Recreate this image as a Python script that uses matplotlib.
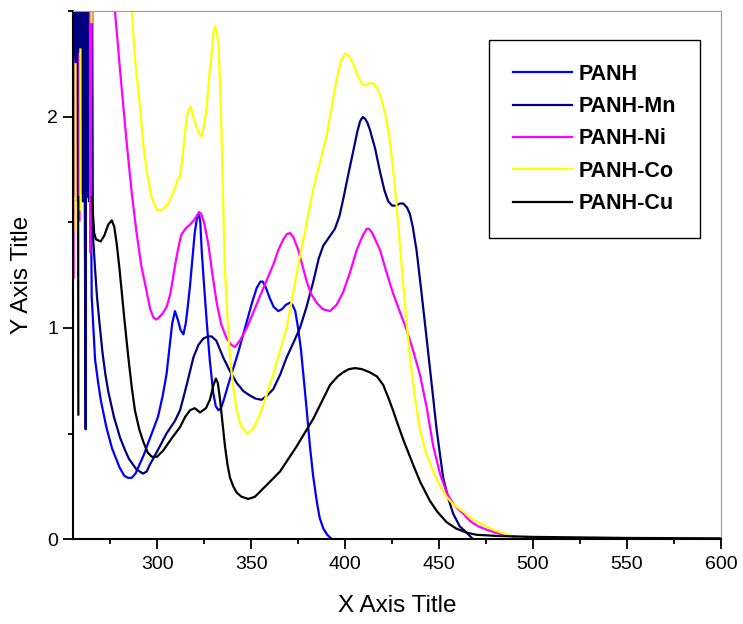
import numpy as np
import matplotlib
matplotlib.use("Agg")
import matplotlib.pyplot as plt
from matplotlib.ticker import MultipleLocator

plt.rcParams['font.family'] = ['Liberation Sans', 'DejaVu Sans']

nan = np.nan

# wavelength (nm) / absorbance (nan = gap in the noisy UV edge)
x_panh = [255.0, 255.2, nan, 264.8, 265.2, 267.0, 268.5, 270.0, 273.0, 276.0, 280.0, 282.5, 284.5, 286.5,
          288.5, 291.0, 293.0, 295.0, 298.0, 300.5, 303.0, 305.0, 306.5, 308.0, 309.5, 311.0, 312.5, 314.0,
          315.2, 316.3, 317.5, 318.8, 320.0, 321.2, 322.3, 323.0, 323.7, 325.0, 326.4, 328.0, 329.9, 331.2,
          332.6, 334.0, 335.5, 338.8, 343.0, 347.7, 350.5, 353.0, 355.0, 356.2, 357.5, 360.0, 362.0, 364.5,
          366.5, 368.5, 370.7, 372.0, 373.5, 375.0, 376.5, 377.8, 379.5, 381.3, 383.0, 384.9, 386.5, 388.4,
          390.5, 392.9]
y_panh = [1.60, 1.02, nan, 1.62, 1.15, 0.85, 0.75, 0.66, 0.53, 0.43, 0.34, 0.30, 0.29, 0.29,
          0.31, 0.36, 0.40, 0.45, 0.52, 0.58, 0.68, 0.78, 0.90, 1.02, 1.08, 1.04, 0.99, 0.97,
          1.02, 1.10, 1.20, 1.33, 1.45, 1.52, 1.54, 1.50, 1.37, 1.20, 1.03, 0.85, 0.69, 0.63,
          0.61, 0.62, 0.66, 0.76, 0.88, 1.03, 1.12, 1.19, 1.22, 1.22, 1.20, 1.14, 1.10, 1.08,
          1.09, 1.11, 1.12, 1.11, 1.08, 1.00, 0.90, 0.78, 0.62, 0.44, 0.30, 0.18, 0.10, 0.05,
          0.02, 0.0]

x_mn = [255.0, 255.5, 256.0, 256.5, 257.0, 257.5, 258.0, 258.5, 259.0, 259.5, 260.0, 260.5, 261.0, 261.5,
        262.0, 262.3, 262.8, 263.3, 263.8, 264.3, 264.8, 265.3, 265.8, 266.0, 267.0, 268.0, 269.5, 271.0,
        272.5, 274.0, 277.0, 280.3, 283.0, 285.0, 289.0, 292.5, 294.5, 296.0, 298.5, 301.5, 305.0, 309.5,
        312.2, 314.0, 316.0, 319.3, 322.0, 324.6, 327.0, 329.0, 331.5, 335.2, 338.5, 342.3, 346.0, 349.4,
        352.5, 355.6, 358.5, 361.8, 365.5, 368.9, 372.5, 376.0, 379.5, 383.1, 386.0, 388.4, 391.5, 394.6,
        397.0, 399.0, 402.0, 404.4, 406.5, 408.0, 409.4, 410.8, 412.0, 413.2, 416.0, 418.6, 421.0, 423.0,
        425.0, 427.0, 429.2, 431.0, 433.0, 434.5, 436.0, 438.0, 440.5, 443.4, 446.0, 448.7, 450.5, 452.2,
        455.0, 457.5, 461.0, 464.7, 468.0]
y_mn = [3.0, 1.62, 3.0, 1.65, 3.0, 1.60, 3.0, 1.62, 3.0, 1.64, 3.0, 1.60, 3.0, 1.62,
        0.52, 3.0, 1.62, 3.0, 1.60, 3.0, 1.62, 3.0, 1.55, 1.42, 1.28, 1.15, 1.01, 0.88,
        0.78, 0.70, 0.58, 0.48, 0.42, 0.38, 0.33, 0.31, 0.32, 0.35, 0.39, 0.44, 0.50, 0.56,
        0.61, 0.67, 0.74, 0.86, 0.92, 0.95, 0.96, 0.96, 0.94, 0.86, 0.80, 0.74, 0.70, 0.68,
        0.665, 0.66, 0.68, 0.71, 0.78, 0.86, 0.93, 1.00, 1.10, 1.22, 1.33, 1.39, 1.43, 1.47,
        1.53, 1.61, 1.74, 1.84, 1.93, 1.98, 2.00, 1.99, 1.97, 1.94, 1.85, 1.74, 1.65, 1.60,
        1.58, 1.58, 1.59, 1.59, 1.57, 1.54, 1.48, 1.37, 1.18, 0.95, 0.74, 0.52, 0.40, 0.29,
        0.19, 0.12, 0.06, 0.03, 0.0]

x_ni = [255.5, 255.6, nan, 258.7, 258.75, nan, 264.3, 264.4, 265.5, 270.0, 277.6, 280.5, 283.8, 286.5,
        289.1, 291.5, 294.5, 296.3, 298.0, 299.5, 301.0, 303.0, 305.1, 307.0, 308.5, 310.0, 311.3, 312.8,
        315.0, 317.5, 319.5, 321.0, 322.3, 323.5, 325.0, 327.2, 329.5, 331.7, 334.0, 337.0, 339.5, 341.4,
        344.0, 347.7, 351.0, 354.7, 358.0, 361.8, 364.5, 367.1, 369.0, 370.7, 372.5, 375.1, 377.5, 379.6,
        382.0, 384.9, 388.0, 392.0, 395.5, 399.0, 402.5, 406.2, 409.5, 411.5, 412.7, 414.5, 416.5, 418.6,
        421.5, 425.3, 429.0, 432.4, 436.0, 439.8, 443.5, 446.9, 450.5, 454.0, 458.0, 462.9, 466.5, 470.9,
        475.0, 480.0, 485.0, 490.0, 500.0]
y_ni = [2.27, 1.24, nan, 2.30, 1.51, nan, 2.60, 1.36, 3.0, 3.3, 2.50, 2.20, 1.88, 1.64,
        1.45, 1.30, 1.17, 1.09, 1.05, 1.04, 1.05, 1.07, 1.10, 1.16, 1.24, 1.32, 1.38, 1.44,
        1.47, 1.49, 1.51, 1.53, 1.55, 1.54, 1.50, 1.40, 1.25, 1.12, 1.02, 0.95, 0.92, 0.91,
        0.94, 1.00, 1.07, 1.15, 1.22, 1.30, 1.37, 1.42, 1.445, 1.45, 1.43, 1.37, 1.29, 1.22,
        1.16, 1.12, 1.09, 1.08, 1.11, 1.17, 1.26, 1.37, 1.44, 1.47, 1.47, 1.45, 1.41, 1.37,
        1.28, 1.17, 1.08, 1.00, 0.90, 0.78, 0.62, 0.44, 0.31, 0.22, 0.16, 0.12, 0.085, 0.06,
        0.045, 0.03, 0.02, 0.01, 0.0]

x_co = [256.6, 256.7, nan, 259.2, 259.3, nan, 265.1, 265.3, 280.0, 286.5, 288.5, 290.9, 292.5, 294.5,
        297.0, 299.8, 302.5, 306.0, 308.5, 311.3, 312.2, 314.0, 315.7, 317.0, 317.9, 319.3, 321.0, 322.5,
        323.7, 325.0, 326.4, 327.8, 329.0, 330.0, 330.8, 331.7, 332.6, 333.5, 334.4, 335.2, 336.1, 337.4,
        338.8, 340.5, 342.3, 344.5, 347.7, 351.0, 354.7, 361.8, 368.9, 376.0, 383.1, 390.2, 395.5, 398.0,
        400.0, 402.0, 404.4, 406.5, 408.8, 411.0, 413.0, 415.0, 417.5, 419.5, 421.7, 423.9, 425.7, 427.5,
        429.3, 431.0, 432.7, 434.5, 437.0, 439.8, 443.0, 446.9, 450.0, 454.0, 458.0, 462.9, 466.5, 470.9,
        475.0, 480.0, 485.0, 490.0, 497.0]
y_co = [2.25, 1.46, nan, 2.32, 1.56, nan, 2.45, 3.0, 3.6, 2.50, 2.25, 2.05, 1.88, 1.74,
        1.62, 1.56, 1.56, 1.59, 1.64, 1.71, 1.72, 1.85, 2.00, 2.04, 2.05, 2.00, 1.95, 1.92,
        1.91, 1.96, 2.05, 2.20, 2.30, 2.40, 2.43, 2.40, 2.35, 2.15, 1.88, 1.58, 1.28, 1.05,
        0.86, 0.72, 0.61, 0.54, 0.50, 0.52, 0.59, 0.78, 1.00, 1.34, 1.66, 1.91, 2.18, 2.27,
        2.30, 2.29, 2.25, 2.20, 2.16, 2.15, 2.16, 2.16, 2.13, 2.08, 2.00, 1.88, 1.74, 1.57,
        1.38, 1.20, 1.03, 0.86, 0.68, 0.52, 0.41, 0.32, 0.26, 0.20, 0.16, 0.13, 0.10, 0.08,
        0.06, 0.04, 0.025, 0.012, 0.0]

x_cu = [258.0, 258.1, nan, 265.3, 266.5, 267.5, 270.0, 272.0, 274.0, 275.9, 277.2, 278.5, 280.0, 282.5,
        284.7, 286.5, 288.2, 290.5, 292.7, 295.0, 297.1, 300.0, 303.3, 308.0, 312.2, 315.0, 317.5, 320.0,
        322.8, 326.0, 328.1, 330.0, 331.3, 332.3, 333.5, 334.8, 336.1, 337.5, 338.8, 340.5, 342.3, 345.0,
        348.5, 352.0, 356.5, 361.0, 365.4, 374.3, 383.1, 392.0, 396.0, 399.0, 402.0, 405.3, 409.0, 413.2,
        417.0, 420.3, 423.0, 425.5, 427.4, 431.0, 436.3, 440.0, 445.2, 449.0, 454.0, 459.0, 464.7, 470.0,
        480.0, 500.0, 520.0, 550.0, 600.0]
y_cu = [1.62, 0.59, nan, 1.62, 1.45, 1.42, 1.41, 1.44, 1.49, 1.51, 1.48, 1.40, 1.28, 1.05,
        0.86, 0.72, 0.61, 0.52, 0.46, 0.41, 0.39, 0.39, 0.42, 0.48, 0.53, 0.58, 0.61, 0.62,
        0.60, 0.62, 0.66, 0.73, 0.76, 0.74, 0.66, 0.55, 0.44, 0.35, 0.29, 0.25, 0.22, 0.20,
        0.19, 0.20, 0.24, 0.28, 0.32, 0.44, 0.57, 0.73, 0.77, 0.79, 0.805, 0.81, 0.805, 0.79,
        0.77, 0.73, 0.67, 0.61, 0.56, 0.47, 0.35, 0.27, 0.18, 0.13, 0.08, 0.05, 0.03, 0.02,
        0.015, 0.01, 0.008, 0.005, 0.003]

labels = ['PANH', 'PANH-Mn', 'PANH-Ni', 'PANH-Co', 'PANH-Cu']
colors = ['#0000FF', '#000080', '#FF00FF', '#FFFF00', '#000000']

fig = plt.figure(figsize=(7.43, 6.24), dpi=100)
ax = fig.add_axes([0.0976, 0.1362, 0.8728, 0.8454])

series = [(x_panh, y_panh), (x_mn, y_mn), (x_ni, y_ni), (x_co, y_co), (x_cu, y_cu)]
for (xs, ys), lab, c in zip(series, labels, colors):
    ax.plot(xs, ys, color=c, lw=1.6, label=lab)

ax.set_xlim(255, 600)
ax.set_ylim(0, 2.5)
ax.xaxis.set_major_locator(MultipleLocator(50))
ax.xaxis.set_minor_locator(MultipleLocator(25))
ax.yaxis.set_major_locator(MultipleLocator(1))
ax.yaxis.set_minor_locator(MultipleLocator(0.5))
ax.tick_params(which='major', direction='out', length=7, width=1.3, labelsize=14)
ax.tick_params(which='minor', direction='out', length=3.6, width=1.3)
ax.tick_params(axis='x', which='major', pad=5)
ax.tick_params(axis='y', which='major', pad=3.5)

for s in ['left', 'bottom']:
    ax.spines[s].set_linewidth(1.5)
for s in ['top', 'right']:
    ax.spines[s].set_linewidth(0.8)
    ax.spines[s].set_color('#9a9a9a')

ax.set_xlabel('X Axis Title', fontsize=17.5, labelpad=16)
ax.set_ylabel('Y Axis Title', fontsize=17.5, labelpad=10)

leg = ax.legend(loc='upper left', bbox_to_anchor=(0.642, 0.946), prop={'weight': 'bold', 'size': 15.5},
                frameon=True, fancybox=False, framealpha=1, edgecolor='black',
                handlelength=2.75, handletextpad=0.33, labelspacing=0.53, borderpad=1.1, borderaxespad=0)
leg.get_frame().set_linewidth(1.0)

fig.savefig('out.png', dpi=100)
